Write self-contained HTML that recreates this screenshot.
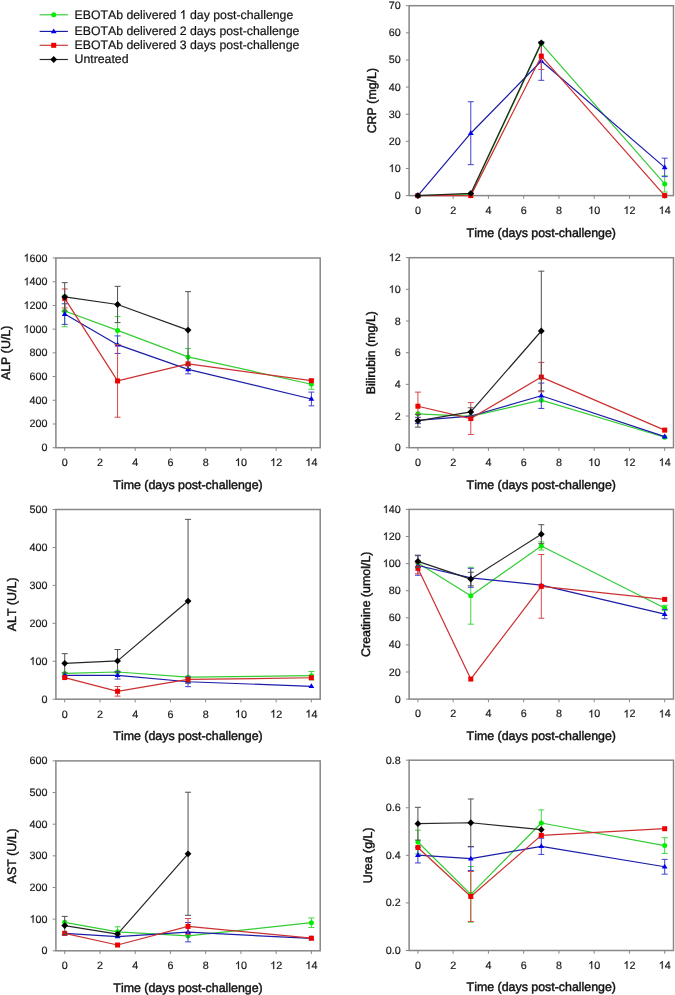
<!DOCTYPE html><html><head><meta charset="utf-8"><style>html,body{margin:0;padding:0;background:#fff;}svg{display:block;will-change:transform;}text{font-family:"Liberation Sans", sans-serif;fill:#111;font-kerning:none;text-rendering:geometricPrecision;}.tk{font-size:10.75px;fill:#1a1a1a;stroke:#1a1a1a;stroke-width:0.2px;}.tt{font-size:12.4px;stroke:#111;stroke-width:0.42px;}.lg{font-size:12.3px;fill:#111;stroke:#111;stroke-width:0.2px;}.tkp{fill:#1a1a1a;stroke:#1a1a1a;stroke-width:0.2px;vector-effect:non-scaling-stroke;}.lgp{fill:#111;stroke:#111;stroke-width:0.2px;vector-effect:non-scaling-stroke;}</style></head><body>
<svg width="675" height="995" viewBox="0 0 675 995">
<rect width="675" height="995" fill="#fff"/>
<g><rect x="409.1" y="5.7" width="264.4" height="189.9" fill="none" stroke="#878787" stroke-width="1.5"/><line x1="405.9" y1="195.6" x2="409.1" y2="195.6" stroke="#878787" stroke-width="1.0"/><text class="tk" x="394.72" y="199.1">0</text><line x1="405.9" y1="168.47" x2="409.1" y2="168.47" stroke="#878787" stroke-width="1.0"/><path class="tkp" d="M763 0H583V1147Q518 1085 412.5 1023T223 930V1104Q374 1175 487 1276T647 1472H763Z" transform="matrix(0.005249 0 0 -0.005249 388.74 171.97)"/><text class="tk" x="394.72" y="171.97" xml:space="preserve">0</text><line x1="405.9" y1="141.34" x2="409.1" y2="141.34" stroke="#878787" stroke-width="1.0"/><text class="tk" x="388.74" y="144.84">20</text><line x1="405.9" y1="114.21" x2="409.1" y2="114.21" stroke="#878787" stroke-width="1.0"/><text class="tk" x="388.74" y="117.71">30</text><line x1="405.9" y1="87.09" x2="409.1" y2="87.09" stroke="#878787" stroke-width="1.0"/><text class="tk" x="388.74" y="90.59">40</text><line x1="405.9" y1="59.96" x2="409.1" y2="59.96" stroke="#878787" stroke-width="1.0"/><text class="tk" x="388.74" y="63.46">50</text><line x1="405.9" y1="32.83" x2="409.1" y2="32.83" stroke="#878787" stroke-width="1.0"/><text class="tk" x="388.74" y="36.33">60</text><line x1="405.9" y1="5.7" x2="409.1" y2="5.7" stroke="#878787" stroke-width="1.0"/><text class="tk" x="388.74" y="9.2">70</text><line x1="417.91" y1="195.6" x2="417.91" y2="198.8" stroke="#878787" stroke-width="1.0"/><text class="tk" x="414.92" y="213.9">0</text><line x1="453.17" y1="195.6" x2="453.17" y2="198.8" stroke="#878787" stroke-width="1.0"/><text class="tk" x="450.18" y="213.9">2</text><line x1="488.42" y1="195.6" x2="488.42" y2="198.8" stroke="#878787" stroke-width="1.0"/><text class="tk" x="485.43" y="213.9">4</text><line x1="523.67" y1="195.6" x2="523.67" y2="198.8" stroke="#878787" stroke-width="1.0"/><text class="tk" x="520.68" y="213.9">6</text><line x1="558.93" y1="195.6" x2="558.93" y2="198.8" stroke="#878787" stroke-width="1.0"/><text class="tk" x="555.94" y="213.9">8</text><line x1="594.18" y1="195.6" x2="594.18" y2="198.8" stroke="#878787" stroke-width="1.0"/><path class="tkp" d="M763 0H583V1147Q518 1085 412.5 1023T223 930V1104Q374 1175 487 1276T647 1472H763Z" transform="matrix(0.005249 0 0 -0.005249 588.2 213.9)"/><text class="tk" x="594.18" y="213.9" xml:space="preserve">0</text><line x1="629.43" y1="195.6" x2="629.43" y2="198.8" stroke="#878787" stroke-width="1.0"/><path class="tkp" d="M763 0H583V1147Q518 1085 412.5 1023T223 930V1104Q374 1175 487 1276T647 1472H763Z" transform="matrix(0.005249 0 0 -0.005249 623.45 213.9)"/><text class="tk" x="629.43" y="213.9" xml:space="preserve">2</text><line x1="664.69" y1="195.6" x2="664.69" y2="198.8" stroke="#878787" stroke-width="1.0"/><path class="tkp" d="M763 0H583V1147Q518 1085 412.5 1023T223 930V1104Q374 1175 487 1276T647 1472H763Z" transform="matrix(0.005249 0 0 -0.005249 658.71 213.9)"/><text class="tk" x="664.69" y="213.9" xml:space="preserve">4</text><text class="tt" x="541.3" y="236.5" text-anchor="middle">Time (days post-challenge)</text><text class="tt" x="0" y="0" text-anchor="middle" transform="translate(375.6 100.65) rotate(-90)">CRP (mg/L)</text><path d="M417.91 195.6L470.79 194.24L541.3 43.68L664.69 183.93" fill="none" stroke="#33cc33" stroke-width="1.22" stroke-linejoin="round"/><path d="M664.69 175.8V192.07M661.69 175.8H667.69M661.69 192.07H667.69" fill="none" stroke="#44d444" stroke-width="1.0"/><circle cx="417.91" cy="195.6" r="2.5" fill="#00ee00"/><circle cx="470.79" cy="194.24" r="2.5" fill="#00ee00"/><circle cx="541.3" cy="43.68" r="2.5" fill="#00ee00"/><circle cx="664.69" cy="183.93" r="2.5" fill="#00ee00"/><path d="M417.91 195.6L470.79 133.2L541.3 61.04L664.69 167.39" fill="none" stroke="#1c1ca8" stroke-width="1.22" stroke-linejoin="round"/><path d="M470.79 101.74V164.67M467.79 101.74H473.79M467.79 164.67H473.79" fill="none" stroke="#4040cc" stroke-width="1.0"/><path d="M541.3 41.78V80.3M538.3 41.78H544.3M538.3 80.3H544.3" fill="none" stroke="#4040cc" stroke-width="1.0"/><path d="M664.69 158.16V176.61M661.69 158.16H667.69M661.69 176.61H667.69" fill="none" stroke="#4040cc" stroke-width="1.0"/><path d="M417.91 192.6L420.81 197.4L415.01 197.4Z" fill="#0000ee"/><path d="M470.79 130.2L473.69 135L467.89 135Z" fill="#0000ee"/><path d="M541.3 58.04L544.2 62.84L538.4 62.84Z" fill="#0000ee"/><path d="M664.69 164.39L667.59 169.19L661.79 169.19Z" fill="#0000ee"/><path d="M417.91 195.6L470.79 195.6L541.3 56.16L664.69 195.6" fill="none" stroke="#cc3030" stroke-width="1.22" stroke-linejoin="round"/><path d="M541.3 42.87V69.45M538.3 42.87H544.3M538.3 69.45H544.3" fill="none" stroke="#d84848" stroke-width="1.0"/><rect x="415.41" y="193.1" width="5" height="5" fill="#ee0000"/><rect x="468.29" y="193.1" width="5" height="5" fill="#ee0000"/><rect x="538.8" y="53.66" width="5" height="5" fill="#ee0000"/><rect x="662.19" y="193.1" width="5" height="5" fill="#ee0000"/><path d="M417.91 195.6L470.79 193.43L541.3 42.87" fill="none" stroke="#262626" stroke-width="1.22" stroke-linejoin="round"/><path d="M417.91 192.2L421.31 195.6L417.91 199L414.51 195.6Z" fill="#000000"/><path d="M470.79 190.03L474.19 193.43L470.79 196.83L467.39 193.43Z" fill="#000000"/><path d="M541.3 39.47L544.7 42.87L541.3 46.27L537.9 42.87Z" fill="#000000"/></g>
<g><rect x="55.9" y="258" width="264.3" height="189.7" fill="none" stroke="#878787" stroke-width="1.5"/><line x1="52.7" y1="447.7" x2="55.9" y2="447.7" stroke="#878787" stroke-width="1.0"/><text class="tk" x="41.52" y="451.2">0</text><line x1="52.7" y1="423.99" x2="55.9" y2="423.99" stroke="#878787" stroke-width="1.0"/><text class="tk" x="29.56" y="427.49">200</text><line x1="52.7" y1="400.27" x2="55.9" y2="400.27" stroke="#878787" stroke-width="1.0"/><text class="tk" x="29.56" y="403.77">400</text><line x1="52.7" y1="376.56" x2="55.9" y2="376.56" stroke="#878787" stroke-width="1.0"/><text class="tk" x="29.56" y="380.06">600</text><line x1="52.7" y1="352.85" x2="55.9" y2="352.85" stroke="#878787" stroke-width="1.0"/><text class="tk" x="29.56" y="356.35">800</text><line x1="52.7" y1="329.14" x2="55.9" y2="329.14" stroke="#878787" stroke-width="1.0"/><path class="tkp" d="M763 0H583V1147Q518 1085 412.5 1023T223 930V1104Q374 1175 487 1276T647 1472H763Z" transform="matrix(0.005249 0 0 -0.005249 23.59 332.64)"/><text class="tk" x="29.56" y="332.64" xml:space="preserve">000</text><line x1="52.7" y1="305.43" x2="55.9" y2="305.43" stroke="#878787" stroke-width="1.0"/><path class="tkp" d="M763 0H583V1147Q518 1085 412.5 1023T223 930V1104Q374 1175 487 1276T647 1472H763Z" transform="matrix(0.005249 0 0 -0.005249 23.59 308.93)"/><text class="tk" x="29.56" y="308.93" xml:space="preserve">200</text><line x1="52.7" y1="281.71" x2="55.9" y2="281.71" stroke="#878787" stroke-width="1.0"/><path class="tkp" d="M763 0H583V1147Q518 1085 412.5 1023T223 930V1104Q374 1175 487 1276T647 1472H763Z" transform="matrix(0.005249 0 0 -0.005249 23.59 285.21)"/><text class="tk" x="29.56" y="285.21" xml:space="preserve">400</text><line x1="52.7" y1="258" x2="55.9" y2="258" stroke="#878787" stroke-width="1.0"/><path class="tkp" d="M763 0H583V1147Q518 1085 412.5 1023T223 930V1104Q374 1175 487 1276T647 1472H763Z" transform="matrix(0.005249 0 0 -0.005249 23.59 261.5)"/><text class="tk" x="29.56" y="261.5" xml:space="preserve">600</text><line x1="64.71" y1="447.7" x2="64.71" y2="450.9" stroke="#878787" stroke-width="1.0"/><text class="tk" x="61.72" y="466">0</text><line x1="99.95" y1="447.7" x2="99.95" y2="450.9" stroke="#878787" stroke-width="1.0"/><text class="tk" x="96.96" y="466">2</text><line x1="135.19" y1="447.7" x2="135.19" y2="450.9" stroke="#878787" stroke-width="1.0"/><text class="tk" x="132.2" y="466">4</text><line x1="170.43" y1="447.7" x2="170.43" y2="450.9" stroke="#878787" stroke-width="1.0"/><text class="tk" x="167.44" y="466">6</text><line x1="205.67" y1="447.7" x2="205.67" y2="450.9" stroke="#878787" stroke-width="1.0"/><text class="tk" x="202.68" y="466">8</text><line x1="240.91" y1="447.7" x2="240.91" y2="450.9" stroke="#878787" stroke-width="1.0"/><path class="tkp" d="M763 0H583V1147Q518 1085 412.5 1023T223 930V1104Q374 1175 487 1276T647 1472H763Z" transform="matrix(0.005249 0 0 -0.005249 234.93 466)"/><text class="tk" x="240.91" y="466" xml:space="preserve">0</text><line x1="276.15" y1="447.7" x2="276.15" y2="450.9" stroke="#878787" stroke-width="1.0"/><path class="tkp" d="M763 0H583V1147Q518 1085 412.5 1023T223 930V1104Q374 1175 487 1276T647 1472H763Z" transform="matrix(0.005249 0 0 -0.005249 270.17 466)"/><text class="tk" x="276.15" y="466" xml:space="preserve">2</text><line x1="311.39" y1="447.7" x2="311.39" y2="450.9" stroke="#878787" stroke-width="1.0"/><path class="tkp" d="M763 0H583V1147Q518 1085 412.5 1023T223 930V1104Q374 1175 487 1276T647 1472H763Z" transform="matrix(0.005249 0 0 -0.005249 305.41 466)"/><text class="tk" x="311.39" y="466" xml:space="preserve">4</text><text class="tt" x="188.05" y="488.6" text-anchor="middle">Time (days post-challenge)</text><text class="tt" x="0" y="0" text-anchor="middle" transform="translate(10.1 352.85) rotate(-90)">ALP (U/L)</text><path d="M64.71 311L117.57 330.44L188.05 356.88L311.39 384.27" fill="none" stroke="#33cc33" stroke-width="1.22" stroke-linejoin="round"/><path d="M64.71 295.23V326.77M61.71 295.23H67.71M61.71 326.77H67.71" fill="none" stroke="#44d444" stroke-width="1.0"/><path d="M117.57 316.57V344.31M114.57 316.57H120.57M114.57 344.31H120.57" fill="none" stroke="#44d444" stroke-width="1.0"/><path d="M188.05 348.46V365.3M185.05 348.46H191.05M185.05 365.3H191.05" fill="none" stroke="#44d444" stroke-width="1.0"/><path d="M311.39 379.29V389.25M308.39 379.29H314.39M308.39 389.25H314.39" fill="none" stroke="#44d444" stroke-width="1.0"/><circle cx="64.71" cy="311" r="2.5" fill="#00ee00"/><circle cx="117.57" cy="330.44" r="2.5" fill="#00ee00"/><circle cx="188.05" cy="356.88" r="2.5" fill="#00ee00"/><circle cx="311.39" cy="384.27" r="2.5" fill="#00ee00"/><path d="M64.71 314.08L117.57 344.67L188.05 369.33L311.39 398.97" fill="none" stroke="#1c1ca8" stroke-width="1.22" stroke-linejoin="round"/><path d="M64.71 303.77V324.39M61.71 303.77H67.71M61.71 324.39H67.71" fill="none" stroke="#4040cc" stroke-width="1.0"/><path d="M117.57 335.9V353.44M114.57 335.9H120.57M114.57 353.44H120.57" fill="none" stroke="#4040cc" stroke-width="1.0"/><path d="M188.05 364.82V373.84M185.05 364.82H191.05M185.05 373.84H191.05" fill="none" stroke="#4040cc" stroke-width="1.0"/><path d="M311.39 392.09V405.85M308.39 392.09H314.39M308.39 405.85H314.39" fill="none" stroke="#4040cc" stroke-width="1.0"/><path d="M64.71 311.08L67.61 315.88L61.81 315.88Z" fill="#0000ee"/><path d="M117.57 341.67L120.47 346.47L114.67 346.47Z" fill="#0000ee"/><path d="M188.05 366.33L190.95 371.13L185.15 371.13Z" fill="#0000ee"/><path d="M311.39 395.97L314.29 400.77L308.49 400.77Z" fill="#0000ee"/><path d="M64.71 298.43L117.57 380.95L188.05 363.88L311.39 380.71" fill="none" stroke="#cc3030" stroke-width="1.22" stroke-linejoin="round"/><path d="M64.71 288.94V307.91M61.71 288.94H67.71M61.71 307.91H67.71" fill="none" stroke="#d84848" stroke-width="1.0"/><path d="M117.57 344.67V417.23M114.57 344.67H120.57M114.57 417.23H120.57" fill="none" stroke="#d84848" stroke-width="1.0"/><rect x="62.21" y="295.93" width="5" height="5" fill="#ee0000"/><rect x="115.07" y="378.45" width="5" height="5" fill="#ee0000"/><rect x="185.55" y="361.38" width="5" height="5" fill="#ee0000"/><rect x="308.89" y="378.21" width="5" height="5" fill="#ee0000"/><path d="M64.71 296.89L117.57 304.48L188.05 330.09" fill="none" stroke="#262626" stroke-width="1.22" stroke-linejoin="round"/><path d="M64.71 282.66V311.12M61.71 282.66H67.71M61.71 311.12H67.71" fill="none" stroke="#505050" stroke-width="1.0"/><path d="M117.57 286.34V322.62M114.57 286.34H120.57M114.57 322.62H120.57" fill="none" stroke="#505050" stroke-width="1.0"/><path d="M188.05 291.67V368.5M185.05 291.67H191.05M185.05 368.5H191.05" fill="none" stroke="#505050" stroke-width="1.0"/><path d="M64.71 293.49L68.11 296.89L64.71 300.29L61.31 296.89Z" fill="#000000"/><path d="M117.57 301.08L120.97 304.48L117.57 307.88L114.17 304.48Z" fill="#000000"/><path d="M188.05 326.69L191.45 330.09L188.05 333.49L184.65 330.09Z" fill="#000000"/></g>
<g><rect x="409.1" y="257.7" width="264.4" height="190" fill="none" stroke="#878787" stroke-width="1.5"/><line x1="405.9" y1="447.7" x2="409.1" y2="447.7" stroke="#878787" stroke-width="1.0"/><text class="tk" x="394.72" y="451.2">0</text><line x1="405.9" y1="416.03" x2="409.1" y2="416.03" stroke="#878787" stroke-width="1.0"/><text class="tk" x="394.72" y="419.53">2</text><line x1="405.9" y1="384.37" x2="409.1" y2="384.37" stroke="#878787" stroke-width="1.0"/><text class="tk" x="394.72" y="387.87">4</text><line x1="405.9" y1="352.7" x2="409.1" y2="352.7" stroke="#878787" stroke-width="1.0"/><text class="tk" x="394.72" y="356.2">6</text><line x1="405.9" y1="321.03" x2="409.1" y2="321.03" stroke="#878787" stroke-width="1.0"/><text class="tk" x="394.72" y="324.53">8</text><line x1="405.9" y1="289.37" x2="409.1" y2="289.37" stroke="#878787" stroke-width="1.0"/><path class="tkp" d="M763 0H583V1147Q518 1085 412.5 1023T223 930V1104Q374 1175 487 1276T647 1472H763Z" transform="matrix(0.005249 0 0 -0.005249 388.74 292.87)"/><text class="tk" x="394.72" y="292.87" xml:space="preserve">0</text><line x1="405.9" y1="257.7" x2="409.1" y2="257.7" stroke="#878787" stroke-width="1.0"/><path class="tkp" d="M763 0H583V1147Q518 1085 412.5 1023T223 930V1104Q374 1175 487 1276T647 1472H763Z" transform="matrix(0.005249 0 0 -0.005249 388.74 261.2)"/><text class="tk" x="394.72" y="261.2" xml:space="preserve">2</text><line x1="417.91" y1="447.7" x2="417.91" y2="450.9" stroke="#878787" stroke-width="1.0"/><text class="tk" x="414.92" y="466">0</text><line x1="453.17" y1="447.7" x2="453.17" y2="450.9" stroke="#878787" stroke-width="1.0"/><text class="tk" x="450.18" y="466">2</text><line x1="488.42" y1="447.7" x2="488.42" y2="450.9" stroke="#878787" stroke-width="1.0"/><text class="tk" x="485.43" y="466">4</text><line x1="523.67" y1="447.7" x2="523.67" y2="450.9" stroke="#878787" stroke-width="1.0"/><text class="tk" x="520.68" y="466">6</text><line x1="558.93" y1="447.7" x2="558.93" y2="450.9" stroke="#878787" stroke-width="1.0"/><text class="tk" x="555.94" y="466">8</text><line x1="594.18" y1="447.7" x2="594.18" y2="450.9" stroke="#878787" stroke-width="1.0"/><path class="tkp" d="M763 0H583V1147Q518 1085 412.5 1023T223 930V1104Q374 1175 487 1276T647 1472H763Z" transform="matrix(0.005249 0 0 -0.005249 588.2 466)"/><text class="tk" x="594.18" y="466" xml:space="preserve">0</text><line x1="629.43" y1="447.7" x2="629.43" y2="450.9" stroke="#878787" stroke-width="1.0"/><path class="tkp" d="M763 0H583V1147Q518 1085 412.5 1023T223 930V1104Q374 1175 487 1276T647 1472H763Z" transform="matrix(0.005249 0 0 -0.005249 623.45 466)"/><text class="tk" x="629.43" y="466" xml:space="preserve">2</text><line x1="664.69" y1="447.7" x2="664.69" y2="450.9" stroke="#878787" stroke-width="1.0"/><path class="tkp" d="M763 0H583V1147Q518 1085 412.5 1023T223 930V1104Q374 1175 487 1276T647 1472H763Z" transform="matrix(0.005249 0 0 -0.005249 658.71 466)"/><text class="tk" x="664.69" y="466" xml:space="preserve">4</text><text class="tt" x="541.3" y="488.6" text-anchor="middle">Time (days post-challenge)</text><text class="tt" x="0" y="0" text-anchor="middle" transform="translate(375.4 352.7) rotate(-90)">Bilirubin (mg/L)</text><path d="M417.91 413.82L470.79 416.35L541.3 400.2L664.69 437.25" fill="none" stroke="#33cc33" stroke-width="1.22" stroke-linejoin="round"/><circle cx="417.91" cy="413.82" r="2.5" fill="#00ee00"/><circle cx="470.79" cy="416.35" r="2.5" fill="#00ee00"/><circle cx="541.3" cy="400.2" r="2.5" fill="#00ee00"/><circle cx="664.69" cy="437.25" r="2.5" fill="#00ee00"/><path d="M417.91 420.47L470.79 416.03L541.3 395.77L664.69 436.62" fill="none" stroke="#1c1ca8" stroke-width="1.22" stroke-linejoin="round"/><path d="M417.91 417.3V423.63M414.91 417.3H420.91M414.91 423.63H420.91" fill="none" stroke="#4040cc" stroke-width="1.0"/><path d="M541.3 383.1V408.43M538.3 383.1H544.3M538.3 408.43H544.3" fill="none" stroke="#4040cc" stroke-width="1.0"/><path d="M417.91 417.47L420.81 422.27L415.01 422.27Z" fill="#0000ee"/><path d="M470.79 413.03L473.69 417.83L467.89 417.83Z" fill="#0000ee"/><path d="M541.3 392.77L544.2 397.57L538.4 397.57Z" fill="#0000ee"/><path d="M664.69 433.62L667.59 438.42L661.79 438.42Z" fill="#0000ee"/><path d="M417.91 406.22L470.79 418.57L541.3 377.08L664.69 430.12" fill="none" stroke="#cc3030" stroke-width="1.22" stroke-linejoin="round"/><path d="M417.91 392.12V420.31M414.91 392.12H420.91M414.91 420.31H420.91" fill="none" stroke="#d84848" stroke-width="1.0"/><path d="M470.79 402.57V434.56M467.79 402.57H473.79M467.79 434.56H473.79" fill="none" stroke="#d84848" stroke-width="1.0"/><path d="M541.3 362.36V391.81M538.3 362.36H544.3M538.3 391.81H544.3" fill="none" stroke="#d84848" stroke-width="1.0"/><rect x="415.41" y="403.72" width="5" height="5" fill="#ee0000"/><rect x="468.29" y="416.07" width="5" height="5" fill="#ee0000"/><rect x="538.8" y="374.58" width="5" height="5" fill="#ee0000"/><rect x="662.19" y="427.62" width="5" height="5" fill="#ee0000"/><path d="M417.91 420.78L470.79 411.92L541.3 331.01" fill="none" stroke="#262626" stroke-width="1.22" stroke-linejoin="round"/><path d="M417.91 414.45V427.12M414.91 414.45H420.91M414.91 427.12H420.91" fill="none" stroke="#505050" stroke-width="1.0"/><path d="M470.79 407.8V416.03M467.79 407.8H473.79M467.79 416.03H473.79" fill="none" stroke="#505050" stroke-width="1.0"/><path d="M541.3 271.16V390.86M538.3 271.16H544.3M538.3 390.86H544.3" fill="none" stroke="#505050" stroke-width="1.0"/><path d="M417.91 417.38L421.31 420.78L417.91 424.18L414.51 420.78Z" fill="#000000"/><path d="M470.79 408.52L474.19 411.92L470.79 415.32L467.39 411.92Z" fill="#000000"/><path d="M541.3 327.61L544.7 331.01L541.3 334.41L537.9 331.01Z" fill="#000000"/></g>
<g><rect x="55.9" y="509.5" width="264.3" height="189.7" fill="none" stroke="#878787" stroke-width="1.5"/><line x1="52.7" y1="699.2" x2="55.9" y2="699.2" stroke="#878787" stroke-width="1.0"/><text class="tk" x="41.52" y="702.7">0</text><line x1="52.7" y1="661.26" x2="55.9" y2="661.26" stroke="#878787" stroke-width="1.0"/><path class="tkp" d="M763 0H583V1147Q518 1085 412.5 1023T223 930V1104Q374 1175 487 1276T647 1472H763Z" transform="matrix(0.005249 0 0 -0.005249 29.56 664.76)"/><text class="tk" x="35.54" y="664.76" xml:space="preserve">00</text><line x1="52.7" y1="623.32" x2="55.9" y2="623.32" stroke="#878787" stroke-width="1.0"/><text class="tk" x="29.56" y="626.82">200</text><line x1="52.7" y1="585.38" x2="55.9" y2="585.38" stroke="#878787" stroke-width="1.0"/><text class="tk" x="29.56" y="588.88">300</text><line x1="52.7" y1="547.44" x2="55.9" y2="547.44" stroke="#878787" stroke-width="1.0"/><text class="tk" x="29.56" y="550.94">400</text><line x1="52.7" y1="509.5" x2="55.9" y2="509.5" stroke="#878787" stroke-width="1.0"/><text class="tk" x="29.56" y="513">500</text><line x1="64.71" y1="699.2" x2="64.71" y2="702.4" stroke="#878787" stroke-width="1.0"/><text class="tk" x="61.72" y="717.5">0</text><line x1="99.95" y1="699.2" x2="99.95" y2="702.4" stroke="#878787" stroke-width="1.0"/><text class="tk" x="96.96" y="717.5">2</text><line x1="135.19" y1="699.2" x2="135.19" y2="702.4" stroke="#878787" stroke-width="1.0"/><text class="tk" x="132.2" y="717.5">4</text><line x1="170.43" y1="699.2" x2="170.43" y2="702.4" stroke="#878787" stroke-width="1.0"/><text class="tk" x="167.44" y="717.5">6</text><line x1="205.67" y1="699.2" x2="205.67" y2="702.4" stroke="#878787" stroke-width="1.0"/><text class="tk" x="202.68" y="717.5">8</text><line x1="240.91" y1="699.2" x2="240.91" y2="702.4" stroke="#878787" stroke-width="1.0"/><path class="tkp" d="M763 0H583V1147Q518 1085 412.5 1023T223 930V1104Q374 1175 487 1276T647 1472H763Z" transform="matrix(0.005249 0 0 -0.005249 234.93 717.5)"/><text class="tk" x="240.91" y="717.5" xml:space="preserve">0</text><line x1="276.15" y1="699.2" x2="276.15" y2="702.4" stroke="#878787" stroke-width="1.0"/><path class="tkp" d="M763 0H583V1147Q518 1085 412.5 1023T223 930V1104Q374 1175 487 1276T647 1472H763Z" transform="matrix(0.005249 0 0 -0.005249 270.17 717.5)"/><text class="tk" x="276.15" y="717.5" xml:space="preserve">2</text><line x1="311.39" y1="699.2" x2="311.39" y2="702.4" stroke="#878787" stroke-width="1.0"/><path class="tkp" d="M763 0H583V1147Q518 1085 412.5 1023T223 930V1104Q374 1175 487 1276T647 1472H763Z" transform="matrix(0.005249 0 0 -0.005249 305.41 717.5)"/><text class="tk" x="311.39" y="717.5" xml:space="preserve">4</text><text class="tt" x="188.05" y="740.1" text-anchor="middle">Time (days post-challenge)</text><text class="tt" x="0" y="0" text-anchor="middle" transform="translate(16.1 604.35) rotate(-90)">ALT (U/L)</text><path d="M64.71 673.4L117.57 672L188.05 677.19L311.39 675.68" fill="none" stroke="#33cc33" stroke-width="1.22" stroke-linejoin="round"/><path d="M311.39 671.5V679.85M308.39 671.5H314.39M308.39 679.85H314.39" fill="none" stroke="#44d444" stroke-width="1.0"/><circle cx="64.71" cy="673.4" r="2.5" fill="#00ee00"/><circle cx="117.57" cy="672" r="2.5" fill="#00ee00"/><circle cx="188.05" cy="677.19" r="2.5" fill="#00ee00"/><circle cx="311.39" cy="675.68" r="2.5" fill="#00ee00"/><path d="M64.71 675.3L117.57 675.3L188.05 681.75L311.39 686.3" fill="none" stroke="#1c1ca8" stroke-width="1.22" stroke-linejoin="round"/><path d="M117.57 671.5V679.09M114.57 671.5H120.57M114.57 679.09H120.57" fill="none" stroke="#4040cc" stroke-width="1.0"/><path d="M188.05 676.82V686.68M185.05 676.82H191.05M185.05 686.68H191.05" fill="none" stroke="#4040cc" stroke-width="1.0"/><path d="M64.71 672.3L67.61 677.1L61.81 677.1Z" fill="#0000ee"/><path d="M117.57 672.3L120.47 677.1L114.67 677.1Z" fill="#0000ee"/><path d="M188.05 678.75L190.95 683.55L185.15 683.55Z" fill="#0000ee"/><path d="M311.39 683.3L314.29 688.1L308.49 688.1Z" fill="#0000ee"/><path d="M64.71 677.57L117.57 691.31L188.05 679.47L311.39 677.76" fill="none" stroke="#cc3030" stroke-width="1.22" stroke-linejoin="round"/><path d="M117.57 686.49V696.13M114.57 686.49H120.57M114.57 696.13H120.57" fill="none" stroke="#d84848" stroke-width="1.0"/><rect x="62.21" y="675.07" width="5" height="5" fill="#ee0000"/><rect x="115.07" y="688.81" width="5" height="5" fill="#ee0000"/><rect x="185.55" y="676.97" width="5" height="5" fill="#ee0000"/><rect x="308.89" y="675.26" width="5" height="5" fill="#ee0000"/><path d="M64.71 663.31L117.57 660.88L188.05 601.09" fill="none" stroke="#262626" stroke-width="1.22" stroke-linejoin="round"/><path d="M64.71 653.67V672.95M61.71 653.67H67.71M61.71 672.95H67.71" fill="none" stroke="#505050" stroke-width="1.0"/><path d="M117.57 649.5V672.26M114.57 649.5H120.57M114.57 672.26H120.57" fill="none" stroke="#505050" stroke-width="1.0"/><path d="M188.05 519.36V682.81M185.05 519.36H191.05M185.05 682.81H191.05" fill="none" stroke="#505050" stroke-width="1.0"/><path d="M64.71 659.91L68.11 663.31L64.71 666.71L61.31 663.31Z" fill="#000000"/><path d="M117.57 657.48L120.97 660.88L117.57 664.28L114.17 660.88Z" fill="#000000"/><path d="M188.05 597.69L191.45 601.09L188.05 604.49L184.65 601.09Z" fill="#000000"/></g>
<g><rect x="409.1" y="509.4" width="264.4" height="189.7" fill="none" stroke="#878787" stroke-width="1.5"/><line x1="405.9" y1="699.1" x2="409.1" y2="699.1" stroke="#878787" stroke-width="1.0"/><text class="tk" x="394.72" y="702.6">0</text><line x1="405.9" y1="672" x2="409.1" y2="672" stroke="#878787" stroke-width="1.0"/><text class="tk" x="388.74" y="675.5">20</text><line x1="405.9" y1="644.9" x2="409.1" y2="644.9" stroke="#878787" stroke-width="1.0"/><text class="tk" x="388.74" y="648.4">40</text><line x1="405.9" y1="617.8" x2="409.1" y2="617.8" stroke="#878787" stroke-width="1.0"/><text class="tk" x="388.74" y="621.3">60</text><line x1="405.9" y1="590.7" x2="409.1" y2="590.7" stroke="#878787" stroke-width="1.0"/><text class="tk" x="388.74" y="594.2">80</text><line x1="405.9" y1="563.6" x2="409.1" y2="563.6" stroke="#878787" stroke-width="1.0"/><path class="tkp" d="M763 0H583V1147Q518 1085 412.5 1023T223 930V1104Q374 1175 487 1276T647 1472H763Z" transform="matrix(0.005249 0 0 -0.005249 382.76 567.1)"/><text class="tk" x="388.74" y="567.1" xml:space="preserve">00</text><line x1="405.9" y1="536.5" x2="409.1" y2="536.5" stroke="#878787" stroke-width="1.0"/><path class="tkp" d="M763 0H583V1147Q518 1085 412.5 1023T223 930V1104Q374 1175 487 1276T647 1472H763Z" transform="matrix(0.005249 0 0 -0.005249 382.76 540)"/><text class="tk" x="388.74" y="540" xml:space="preserve">20</text><line x1="405.9" y1="509.4" x2="409.1" y2="509.4" stroke="#878787" stroke-width="1.0"/><path class="tkp" d="M763 0H583V1147Q518 1085 412.5 1023T223 930V1104Q374 1175 487 1276T647 1472H763Z" transform="matrix(0.005249 0 0 -0.005249 382.76 512.9)"/><text class="tk" x="388.74" y="512.9" xml:space="preserve">40</text><line x1="417.91" y1="699.1" x2="417.91" y2="702.3" stroke="#878787" stroke-width="1.0"/><text class="tk" x="414.92" y="717.4">0</text><line x1="453.17" y1="699.1" x2="453.17" y2="702.3" stroke="#878787" stroke-width="1.0"/><text class="tk" x="450.18" y="717.4">2</text><line x1="488.42" y1="699.1" x2="488.42" y2="702.3" stroke="#878787" stroke-width="1.0"/><text class="tk" x="485.43" y="717.4">4</text><line x1="523.67" y1="699.1" x2="523.67" y2="702.3" stroke="#878787" stroke-width="1.0"/><text class="tk" x="520.68" y="717.4">6</text><line x1="558.93" y1="699.1" x2="558.93" y2="702.3" stroke="#878787" stroke-width="1.0"/><text class="tk" x="555.94" y="717.4">8</text><line x1="594.18" y1="699.1" x2="594.18" y2="702.3" stroke="#878787" stroke-width="1.0"/><path class="tkp" d="M763 0H583V1147Q518 1085 412.5 1023T223 930V1104Q374 1175 487 1276T647 1472H763Z" transform="matrix(0.005249 0 0 -0.005249 588.2 717.4)"/><text class="tk" x="594.18" y="717.4" xml:space="preserve">0</text><line x1="629.43" y1="699.1" x2="629.43" y2="702.3" stroke="#878787" stroke-width="1.0"/><path class="tkp" d="M763 0H583V1147Q518 1085 412.5 1023T223 930V1104Q374 1175 487 1276T647 1472H763Z" transform="matrix(0.005249 0 0 -0.005249 623.45 717.4)"/><text class="tk" x="629.43" y="717.4" xml:space="preserve">2</text><line x1="664.69" y1="699.1" x2="664.69" y2="702.3" stroke="#878787" stroke-width="1.0"/><path class="tkp" d="M763 0H583V1147Q518 1085 412.5 1023T223 930V1104Q374 1175 487 1276T647 1472H763Z" transform="matrix(0.005249 0 0 -0.005249 658.71 717.4)"/><text class="tk" x="664.69" y="717.4" xml:space="preserve">4</text><text class="tt" x="541.3" y="740" text-anchor="middle">Time (days post-challenge)</text><text class="tt" x="0" y="0" text-anchor="middle" transform="translate(369.6 604.25) rotate(-90)">Creatinine (umol/L)</text><path d="M417.91 562.92L470.79 595.71L541.3 545.99L664.69 608.04" fill="none" stroke="#33cc33" stroke-width="1.22" stroke-linejoin="round"/><path d="M470.79 567.26V624.17M467.79 567.26H473.79M467.79 624.17H473.79" fill="none" stroke="#44d444" stroke-width="1.0"/><path d="M541.3 541.92V550.05M538.3 541.92H544.3M538.3 550.05H544.3" fill="none" stroke="#44d444" stroke-width="1.0"/><path d="M664.69 605.33V610.75M661.69 605.33H667.69M661.69 610.75H667.69" fill="none" stroke="#44d444" stroke-width="1.0"/><circle cx="417.91" cy="562.92" r="2.5" fill="#00ee00"/><circle cx="470.79" cy="595.71" r="2.5" fill="#00ee00"/><circle cx="541.3" cy="545.99" r="2.5" fill="#00ee00"/><circle cx="664.69" cy="608.04" r="2.5" fill="#00ee00"/><path d="M417.91 565.5L470.79 577.83L541.3 585.14L664.69 614.14" fill="none" stroke="#1c1ca8" stroke-width="1.22" stroke-linejoin="round"/><path d="M417.91 555.74V575.25M414.91 555.74H420.91M414.91 575.25H420.91" fill="none" stroke="#4040cc" stroke-width="1.0"/><path d="M470.79 568.34V587.31M467.79 568.34H473.79M467.79 587.31H473.79" fill="none" stroke="#4040cc" stroke-width="1.0"/><path d="M664.69 609.53V618.75M661.69 609.53H667.69M661.69 618.75H667.69" fill="none" stroke="#4040cc" stroke-width="1.0"/><path d="M417.91 562.5L420.81 567.3L415.01 567.3Z" fill="#0000ee"/><path d="M470.79 574.83L473.69 579.63L467.89 579.63Z" fill="#0000ee"/><path d="M541.3 582.14L544.2 586.94L538.4 586.94Z" fill="#0000ee"/><path d="M664.69 611.14L667.59 615.94L661.79 615.94Z" fill="#0000ee"/><path d="M417.91 568.34L470.79 679.05L541.3 586.36L664.69 599.37" fill="none" stroke="#cc3030" stroke-width="1.22" stroke-linejoin="round"/><path d="M417.91 562.92V573.76M414.91 562.92H420.91M414.91 573.76H420.91" fill="none" stroke="#d84848" stroke-width="1.0"/><path d="M541.3 554.52V618.21M538.3 554.52H544.3M538.3 618.21H544.3" fill="none" stroke="#d84848" stroke-width="1.0"/><rect x="415.41" y="565.84" width="5" height="5" fill="#ee0000"/><rect x="468.29" y="676.55" width="5" height="5" fill="#ee0000"/><rect x="538.8" y="583.86" width="5" height="5" fill="#ee0000"/><rect x="662.19" y="596.87" width="5" height="5" fill="#ee0000"/><path d="M417.91 561.3L470.79 579.05L541.3 534.2" fill="none" stroke="#262626" stroke-width="1.22" stroke-linejoin="round"/><path d="M417.91 555.2V567.39M414.91 555.2H420.91M414.91 567.39H420.91" fill="none" stroke="#505050" stroke-width="1.0"/><path d="M470.79 572.27V585.82M467.79 572.27H473.79M467.79 585.82H473.79" fill="none" stroke="#505050" stroke-width="1.0"/><path d="M541.3 524.71V543.68M538.3 524.71H544.3M538.3 543.68H544.3" fill="none" stroke="#505050" stroke-width="1.0"/><path d="M417.91 557.9L421.31 561.3L417.91 564.7L414.51 561.3Z" fill="#000000"/><path d="M470.79 575.65L474.19 579.05L470.79 582.45L467.39 579.05Z" fill="#000000"/><path d="M541.3 530.8L544.7 534.2L541.3 537.6L537.9 534.2Z" fill="#000000"/></g>
<g><rect x="55.9" y="760.9" width="264.3" height="189.9" fill="none" stroke="#878787" stroke-width="1.5"/><line x1="52.7" y1="950.8" x2="55.9" y2="950.8" stroke="#878787" stroke-width="1.0"/><text class="tk" x="41.52" y="954.3">0</text><line x1="52.7" y1="919.15" x2="55.9" y2="919.15" stroke="#878787" stroke-width="1.0"/><path class="tkp" d="M763 0H583V1147Q518 1085 412.5 1023T223 930V1104Q374 1175 487 1276T647 1472H763Z" transform="matrix(0.005249 0 0 -0.005249 29.56 922.65)"/><text class="tk" x="35.54" y="922.65" xml:space="preserve">00</text><line x1="52.7" y1="887.5" x2="55.9" y2="887.5" stroke="#878787" stroke-width="1.0"/><text class="tk" x="29.56" y="891">200</text><line x1="52.7" y1="855.85" x2="55.9" y2="855.85" stroke="#878787" stroke-width="1.0"/><text class="tk" x="29.56" y="859.35">300</text><line x1="52.7" y1="824.2" x2="55.9" y2="824.2" stroke="#878787" stroke-width="1.0"/><text class="tk" x="29.56" y="827.7">400</text><line x1="52.7" y1="792.55" x2="55.9" y2="792.55" stroke="#878787" stroke-width="1.0"/><text class="tk" x="29.56" y="796.05">500</text><line x1="52.7" y1="760.9" x2="55.9" y2="760.9" stroke="#878787" stroke-width="1.0"/><text class="tk" x="29.56" y="764.4">600</text><line x1="64.71" y1="950.8" x2="64.71" y2="954" stroke="#878787" stroke-width="1.0"/><text class="tk" x="61.72" y="969.1">0</text><line x1="99.95" y1="950.8" x2="99.95" y2="954" stroke="#878787" stroke-width="1.0"/><text class="tk" x="96.96" y="969.1">2</text><line x1="135.19" y1="950.8" x2="135.19" y2="954" stroke="#878787" stroke-width="1.0"/><text class="tk" x="132.2" y="969.1">4</text><line x1="170.43" y1="950.8" x2="170.43" y2="954" stroke="#878787" stroke-width="1.0"/><text class="tk" x="167.44" y="969.1">6</text><line x1="205.67" y1="950.8" x2="205.67" y2="954" stroke="#878787" stroke-width="1.0"/><text class="tk" x="202.68" y="969.1">8</text><line x1="240.91" y1="950.8" x2="240.91" y2="954" stroke="#878787" stroke-width="1.0"/><path class="tkp" d="M763 0H583V1147Q518 1085 412.5 1023T223 930V1104Q374 1175 487 1276T647 1472H763Z" transform="matrix(0.005249 0 0 -0.005249 234.93 969.1)"/><text class="tk" x="240.91" y="969.1" xml:space="preserve">0</text><line x1="276.15" y1="950.8" x2="276.15" y2="954" stroke="#878787" stroke-width="1.0"/><path class="tkp" d="M763 0H583V1147Q518 1085 412.5 1023T223 930V1104Q374 1175 487 1276T647 1472H763Z" transform="matrix(0.005249 0 0 -0.005249 270.17 969.1)"/><text class="tk" x="276.15" y="969.1" xml:space="preserve">2</text><line x1="311.39" y1="950.8" x2="311.39" y2="954" stroke="#878787" stroke-width="1.0"/><path class="tkp" d="M763 0H583V1147Q518 1085 412.5 1023T223 930V1104Q374 1175 487 1276T647 1472H763Z" transform="matrix(0.005249 0 0 -0.005249 305.41 969.1)"/><text class="tk" x="311.39" y="969.1" xml:space="preserve">4</text><text class="tt" x="188.05" y="991.7" text-anchor="middle">Time (days post-challenge)</text><text class="tt" x="0" y="0" text-anchor="middle" transform="translate(16.1 855.85) rotate(-90)">AST (U/L)</text><path d="M64.71 922.31L117.57 931.81L188.05 935.92L311.39 922.69" fill="none" stroke="#33cc33" stroke-width="1.22" stroke-linejoin="round"/><path d="M117.57 926.75V936.87M114.57 926.75H120.57M114.57 936.87H120.57" fill="none" stroke="#44d444" stroke-width="1.0"/><path d="M311.39 917.95V927.44M308.39 917.95H314.39M308.39 927.44H314.39" fill="none" stroke="#44d444" stroke-width="1.0"/><circle cx="64.71" cy="922.31" r="2.5" fill="#00ee00"/><circle cx="117.57" cy="931.81" r="2.5" fill="#00ee00"/><circle cx="188.05" cy="935.92" r="2.5" fill="#00ee00"/><circle cx="311.39" cy="922.69" r="2.5" fill="#00ee00"/><path d="M64.71 933.39L117.57 936.56L188.05 932.19L311.39 938.46" fill="none" stroke="#1c1ca8" stroke-width="1.22" stroke-linejoin="round"/><path d="M188.05 922.5V941.87M185.05 922.5H191.05M185.05 941.87H191.05" fill="none" stroke="#4040cc" stroke-width="1.0"/><path d="M64.71 930.39L67.61 935.19L61.81 935.19Z" fill="#0000ee"/><path d="M117.57 933.56L120.47 938.36L114.67 938.36Z" fill="#0000ee"/><path d="M188.05 929.19L190.95 933.99L185.15 933.99Z" fill="#0000ee"/><path d="M311.39 935.46L314.29 940.26L308.49 940.26Z" fill="#0000ee"/><path d="M64.71 933.39L117.57 945.01L188.05 926.43L311.39 938.2" fill="none" stroke="#cc3030" stroke-width="1.22" stroke-linejoin="round"/><path d="M188.05 918.52V934.34M185.05 918.52H191.05M185.05 934.34H191.05" fill="none" stroke="#d84848" stroke-width="1.0"/><rect x="62.21" y="930.89" width="5" height="5" fill="#ee0000"/><rect x="115.07" y="942.51" width="5" height="5" fill="#ee0000"/><rect x="185.55" y="923.93" width="5" height="5" fill="#ee0000"/><rect x="308.89" y="935.7" width="5" height="5" fill="#ee0000"/><path d="M64.71 925.57L117.57 934.09L188.05 853.79" fill="none" stroke="#262626" stroke-width="1.22" stroke-linejoin="round"/><path d="M64.71 916.4V934.75M61.71 916.4H67.71M61.71 934.75H67.71" fill="none" stroke="#505050" stroke-width="1.0"/><path d="M188.05 792.23V915.35M185.05 792.23H191.05M185.05 915.35H191.05" fill="none" stroke="#505050" stroke-width="1.0"/><path d="M64.71 922.17L68.11 925.57L64.71 928.97L61.31 925.57Z" fill="#000000"/><path d="M117.57 930.69L120.97 934.09L117.57 937.49L114.17 934.09Z" fill="#000000"/><path d="M188.05 850.39L191.45 853.79L188.05 857.19L184.65 853.79Z" fill="#000000"/></g>
<g><rect x="409.1" y="760.2" width="264.4" height="190.3" fill="none" stroke="#878787" stroke-width="1.5"/><line x1="405.9" y1="950.5" x2="409.1" y2="950.5" stroke="#878787" stroke-width="1.0"/><text class="tk" x="385.76" y="954">0.0</text><line x1="405.9" y1="902.92" x2="409.1" y2="902.92" stroke="#878787" stroke-width="1.0"/><text class="tk" x="385.76" y="906.42">0.2</text><line x1="405.9" y1="855.35" x2="409.1" y2="855.35" stroke="#878787" stroke-width="1.0"/><text class="tk" x="385.76" y="858.85">0.4</text><line x1="405.9" y1="807.77" x2="409.1" y2="807.77" stroke="#878787" stroke-width="1.0"/><text class="tk" x="385.76" y="811.27">0.6</text><line x1="405.9" y1="760.2" x2="409.1" y2="760.2" stroke="#878787" stroke-width="1.0"/><text class="tk" x="385.76" y="763.7">0.8</text><line x1="417.91" y1="950.5" x2="417.91" y2="953.7" stroke="#878787" stroke-width="1.0"/><text class="tk" x="414.92" y="968.8">0</text><line x1="453.17" y1="950.5" x2="453.17" y2="953.7" stroke="#878787" stroke-width="1.0"/><text class="tk" x="450.18" y="968.8">2</text><line x1="488.42" y1="950.5" x2="488.42" y2="953.7" stroke="#878787" stroke-width="1.0"/><text class="tk" x="485.43" y="968.8">4</text><line x1="523.67" y1="950.5" x2="523.67" y2="953.7" stroke="#878787" stroke-width="1.0"/><text class="tk" x="520.68" y="968.8">6</text><line x1="558.93" y1="950.5" x2="558.93" y2="953.7" stroke="#878787" stroke-width="1.0"/><text class="tk" x="555.94" y="968.8">8</text><line x1="594.18" y1="950.5" x2="594.18" y2="953.7" stroke="#878787" stroke-width="1.0"/><path class="tkp" d="M763 0H583V1147Q518 1085 412.5 1023T223 930V1104Q374 1175 487 1276T647 1472H763Z" transform="matrix(0.005249 0 0 -0.005249 588.2 968.8)"/><text class="tk" x="594.18" y="968.8" xml:space="preserve">0</text><line x1="629.43" y1="950.5" x2="629.43" y2="953.7" stroke="#878787" stroke-width="1.0"/><path class="tkp" d="M763 0H583V1147Q518 1085 412.5 1023T223 930V1104Q374 1175 487 1276T647 1472H763Z" transform="matrix(0.005249 0 0 -0.005249 623.45 968.8)"/><text class="tk" x="629.43" y="968.8" xml:space="preserve">2</text><line x1="664.69" y1="950.5" x2="664.69" y2="953.7" stroke="#878787" stroke-width="1.0"/><path class="tkp" d="M763 0H583V1147Q518 1085 412.5 1023T223 930V1104Q374 1175 487 1276T647 1472H763Z" transform="matrix(0.005249 0 0 -0.005249 658.71 968.8)"/><text class="tk" x="664.69" y="968.8" xml:space="preserve">4</text><text class="tt" x="541.3" y="991.4" text-anchor="middle">Time (days post-challenge)</text><text class="tt" x="0" y="0" text-anchor="middle" transform="translate(372.1 855.35) rotate(-90)">Urea (g/L)</text><path d="M417.91 842.03L470.79 894.36L541.3 823L664.69 845.6" fill="none" stroke="#33cc33" stroke-width="1.22" stroke-linejoin="round"/><path d="M417.91 830.14V853.92M414.91 830.14H420.91M414.91 853.92H420.91" fill="none" stroke="#44d444" stroke-width="1.0"/><path d="M470.79 866.53V922.19M467.79 866.53H473.79M467.79 922.19H473.79" fill="none" stroke="#44d444" stroke-width="1.0"/><path d="M541.3 809.92V836.08M538.3 809.92H544.3M538.3 836.08H544.3" fill="none" stroke="#44d444" stroke-width="1.0"/><path d="M664.69 837.75V853.45M661.69 837.75H667.69M661.69 853.45H667.69" fill="none" stroke="#44d444" stroke-width="1.0"/><circle cx="417.91" cy="842.03" r="2.5" fill="#00ee00"/><circle cx="470.79" cy="894.36" r="2.5" fill="#00ee00"/><circle cx="541.3" cy="823" r="2.5" fill="#00ee00"/><circle cx="664.69" cy="845.6" r="2.5" fill="#00ee00"/><path d="M417.91 855.11L470.79 858.68L541.3 846.31L664.69 866.77" fill="none" stroke="#1c1ca8" stroke-width="1.22" stroke-linejoin="round"/><path d="M417.91 847.26V862.96M414.91 847.26H420.91M414.91 862.96H420.91" fill="none" stroke="#4040cc" stroke-width="1.0"/><path d="M470.79 846.79V870.57M467.79 846.79H473.79M467.79 870.57H473.79" fill="none" stroke="#4040cc" stroke-width="1.0"/><path d="M541.3 838.22V854.4M538.3 838.22H544.3M538.3 854.4H544.3" fill="none" stroke="#4040cc" stroke-width="1.0"/><path d="M664.69 859.39V874.14M661.69 859.39H667.69M661.69 874.14H667.69" fill="none" stroke="#4040cc" stroke-width="1.0"/><path d="M417.91 852.11L420.81 856.91L415.01 856.91Z" fill="#0000ee"/><path d="M470.79 855.68L473.69 860.48L467.89 860.48Z" fill="#0000ee"/><path d="M541.3 843.31L544.2 848.11L538.4 848.11Z" fill="#0000ee"/><path d="M664.69 863.77L667.59 868.57L661.79 868.57Z" fill="#0000ee"/><path d="M417.91 847.5L470.79 896.5L541.3 835.37L664.69 828.71" fill="none" stroke="#cc3030" stroke-width="1.22" stroke-linejoin="round"/><path d="M470.79 871.53V921.48M467.79 871.53H473.79M467.79 921.48H473.79" fill="none" stroke="#d84848" stroke-width="1.0"/><rect x="415.41" y="845" width="5" height="5" fill="#ee0000"/><rect x="468.29" y="894" width="5" height="5" fill="#ee0000"/><rect x="538.8" y="832.87" width="5" height="5" fill="#ee0000"/><rect x="662.19" y="826.21" width="5" height="5" fill="#ee0000"/><path d="M417.91 823.71L470.79 822.76L541.3 829.66" fill="none" stroke="#262626" stroke-width="1.22" stroke-linejoin="round"/><path d="M417.91 807.3V840.13M414.91 807.3H420.91M414.91 840.13H420.91" fill="none" stroke="#505050" stroke-width="1.0"/><path d="M470.79 798.97V846.55M467.79 798.97H473.79M467.79 846.55H473.79" fill="none" stroke="#505050" stroke-width="1.0"/><path d="M417.91 820.31L421.31 823.71L417.91 827.11L414.51 823.71Z" fill="#000000"/><path d="M470.79 819.36L474.19 822.76L470.79 826.16L467.39 822.76Z" fill="#000000"/><path d="M541.3 826.26L544.7 829.66L541.3 833.06L537.9 829.66Z" fill="#000000"/></g>
<line x1="39.6" y1="14.8" x2="67.9" y2="14.8" stroke="#33cc33" stroke-width="1.15"/>
<circle cx="53.7" cy="14.8" r="2.5" fill="#00ee00"/>
<text class="lg" x="74.5" y="18.9" xml:space="preserve">EBOTAb delivered </text><path class="lgp" d="M763 0H583V1147Q518 1085 412.5 1023T223 930V1104Q374 1175 487 1276T647 1472H763Z" transform="matrix(0.006006 0 0 -0.006006 179.78 18.9)"/><text class="lg" x="186.62" y="18.9" xml:space="preserve"> day post-challenge</text>
<line x1="39.6" y1="31.4" x2="67.9" y2="31.4" stroke="#1c1ca8" stroke-width="1.15"/>
<path d="M53.7 28.4L56.6 33.2L50.8 33.2Z" fill="#0000ee"/>
<text class="lg" x="74.5" y="35.3">EBOTAb delivered 2 days post-challenge</text>
<line x1="39.6" y1="45.3" x2="67.9" y2="45.3" stroke="#cc3030" stroke-width="1.15"/>
<rect x="51.2" y="42.8" width="5" height="5" fill="#ee0000"/>
<text class="lg" x="74.5" y="49.3">EBOTAb delivered 3 days post-challenge</text>
<line x1="39.6" y1="59.5" x2="67.9" y2="59.5" stroke="#262626" stroke-width="1.15"/>
<path d="M53.7 56.1L57.1 59.5L53.7 62.9L50.3 59.5Z" fill="#000000"/>
<text class="lg" x="74.5" y="63.4">Untreated</text>
</svg></body></html>
